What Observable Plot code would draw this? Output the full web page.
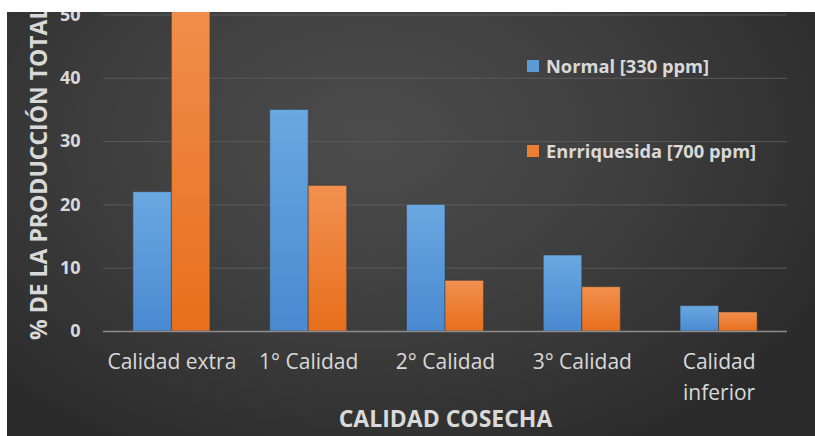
<!DOCTYPE html>
<html><head><meta charset="utf-8">
<script src="https://cdn.jsdelivr.net/npm/d3@7"></script>
<script src="https://cdn.jsdelivr.net/npm/@observablehq/plot@0.6"></script>
<style>
html,body{margin:0;padding:0;background:#fff;}
#wrap{position:absolute;left:7px;top:12px;width:808px;height:424px;overflow:hidden;
background: radial-gradient(ellipse 65% 85% at 45% 30%, #4c4c4c 0%, #404040 45%, #2a2a2a 100%);
font-family:"Open Sans",sans-serif;}
#chart{position:absolute;left:0;top:0;}
.legend{position:absolute;left:520px;font-weight:bold;font-size:18.3px;color:#d9d9d9;display:flex;align-items:center;white-space:nowrap;line-height:1;}
.legend .sw{width:12px;height:12px;margin-right:7px;display:inline-block}
</style></head><body>
<div id="wrap"><div id="chart"></div><div id="legend"></div></div>
<script>
const categories = ["Calidad extra","1° Calidad","2° Calidad","3° Calidad","Calidad inferior"];
const tickLabels = ["Calidad extra","1° Calidad","2° Calidad","3° Calidad","Calidad\ninferior"];
const series = ["Normal [330 ppm]","Enrriquesida [700 ppm]"];
const normal = [22,35,20,12,4];
const enriquecida = [55,23,8,7,3];
const yTicks = [0,10,20,30,40,50];
const seriesColors = ["#5b9bd5","#ed7d31"];

const groupWidth = 0.563;
const data = categories.flatMap((c,i)=> series.map((s,j)=>({
  category:c, i, series:s, j, value: (j===0?normal:enriquecida)[i]
})));

const chart = Plot.plot({
  width:808, height:424,
  marginTop:2.5, marginBottom:105, marginLeft:96, marginRight:28,
  style:{background:"transparent", color:"#d9d9d9", fontFamily:"Open Sans"},
  x:{type:"linear", domain:[-0.5, categories.length-0.5]},
  y:{domain:[0,50]},
  color:{domain:series, range:["url(#gBlue)","url(#gOrange)"]},
  marks:[
    Plot.gridY(yTicks,{stroke:"#5a5a5a", strokeOpacity:1, strokeWidth:1}),
    Plot.rectY(data,{
      x1: d => d.i - groupWidth/2 + d.j*groupWidth/2,
      x2: d => d.i - groupWidth/2 + (d.j+1)*groupWidth/2,
      y1: 0, y2: "value", fill: "series",
      stroke: "#3a3a3a", strokeOpacity:0.5, strokeWidth:1, inset:0
    }),
    Plot.ruleY([0],{stroke:"#8c8c8c", strokeWidth:1.5}),
    Plot.axisY({ticks:yTicks, tickSize:0, tickPadding:23, fontSize:18, fontWeight:"bold",
      fill:"#d9d9d9", label:"% DE LA PRODUCCIÓN TOTAL", labelAnchor:"center", labelOffset:73, labelArrow:"none"}),
    Plot.axisX({ticks:d3.range(categories.length), tickFormat: i => tickLabels[i], tickSize:0, tickPadding:16,
      fontSize:21, fill:"#d9d9d9", lineHeight:1.45,
      label:"CALIDAD COSECHA", labelAnchor:"center", labelOffset:95, labelArrow:"none"})
  ]
});

const svg = d3.select(chart);
const defs = svg.insert("defs", ":first-child");
const grads = [["gBlue","#6aa8e2","#4989d0"],["gOrange","#f2904f","#e76f1c"]];
for (const [id,top,bot] of grads) {
  const g = defs.append("linearGradient").attr("id",id).attr("x1",0).attr("y1",0).attr("x2",0).attr("y2",1);
  g.append("stop").attr("offset","0%").attr("stop-color",top);
  g.append("stop").attr("offset","100%").attr("stop-color",bot);
}
svg.selectAll('g[aria-label="y-axis label"]').attr("font-size",23).attr("font-weight","bold");
svg.selectAll('g[aria-label="x-axis label"]').attr("font-size",23).attr("font-weight","bold");
document.getElementById("chart").appendChild(chart);

const lg = d3.select("#legend");
const legendTops = [45, 130];
series.forEach((s,j)=>{
  const item = lg.append("div").attr("class","legend").style("top", legendTops[j]+"px");
  item.append("span").attr("class","sw").style("background", seriesColors[j]);
  item.append("span").text(s);
});
</script>
</body></html>
